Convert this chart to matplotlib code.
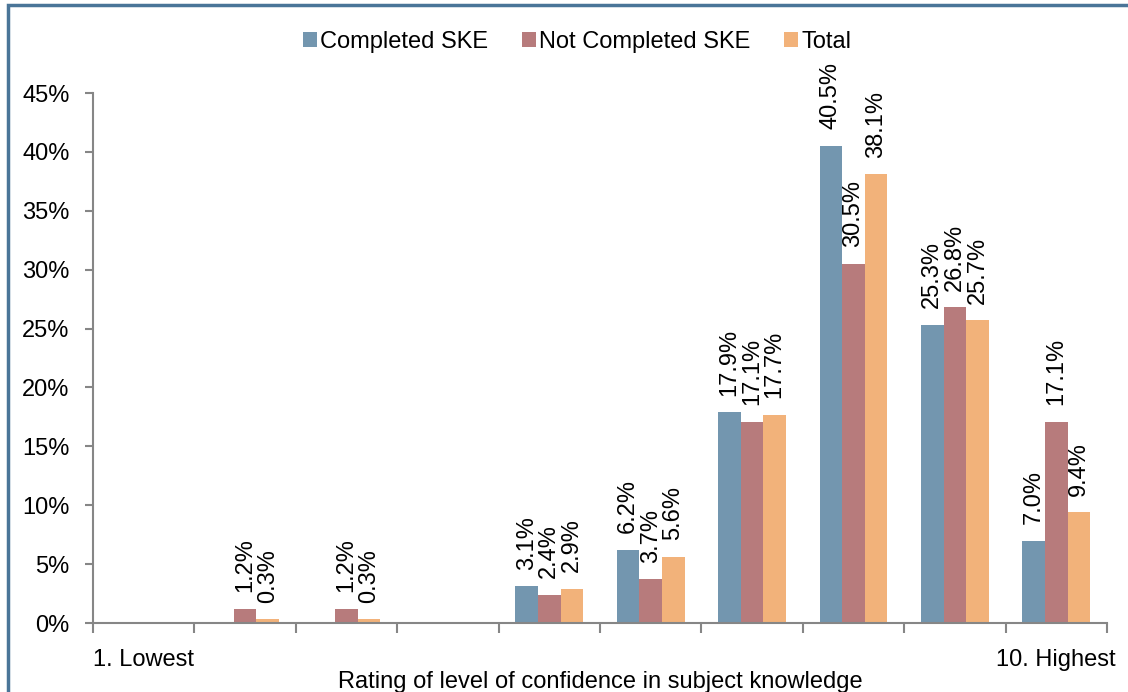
import matplotlib as mpl
mpl.use('agg')
import matplotlib.pyplot as plt
import numpy as np
from matplotlib.patches import Rectangle
from matplotlib.ticker import FuncFormatter

plt.rcParams['font.family'] = ['Liberation Sans', 'DejaVu Sans']

categories = ['1. Lowest', '', '', '', '', '', '', '', '', '10. Highest']
series_names = ['Completed SKE', 'Not Completed SKE', 'Total']
completed = [0, 0, 0, 0, 3.1, 6.2, 17.9, 40.5, 25.3, 7.0]
not_completed = [0, 1.2, 1.2, 0, 2.4, 3.7, 17.1, 30.5, 26.8, 17.1]
total = [0, 0.3, 0.3, 0, 2.9, 5.6, 17.7, 38.1, 25.7, 9.4]
colors = ['#7396AF', '#B77B7C', '#F2B27A']

axis_grey = '#868686'
fs = 17

fig = plt.figure(figsize=(11.28, 6.92), dpi=100)
ax = fig.add_axes([93 / 1128, 1 - 623 / 692, (1107 - 93) / 1128, (623 - 93) / 692])

x = np.arange(len(categories))
width = 0.223
for i, (vals, name, col) in enumerate(zip([completed, not_completed, total], series_names, colors)):
    pos = x + (i - 1) * width
    ax.bar(pos, vals, width, color=col, label=name, linewidth=0)
    for p, v in zip(pos, vals):
        if v > 0:
            ax.annotate('%.1f%%' % v, (p, v), xytext=(0, 12), textcoords='offset points',
                        rotation=90, ha='center', va='bottom', fontsize=fs)

ax.set_xlim(-0.5, len(categories) - 0.5)
ax.set_ylim(0, 45)
ax.set_yticks(np.arange(0, 46, 5))
ax.yaxis.set_major_formatter(FuncFormatter(lambda v, p: '%d%%' % v))

ax.set_xticks(np.arange(-0.5, len(categories), 1))
ax.set_xticklabels([])
ax.set_xticks(x, minor=True)
ax.set_xticklabels(categories, minor=True)
ax.tick_params(axis='x', which='minor', length=0, pad=19, labelsize=fs)
ax.tick_params(axis='x', which='major', length=7, color=axis_grey, width=1.5)
ax.tick_params(axis='y', length=6, color=axis_grey, width=1.5, labelsize=fs, pad=11)

for s in ['top', 'right']:
    ax.spines[s].set_visible(False)
for s in ['left', 'bottom']:
    ax.spines[s].set_color(axis_grey)
    ax.spines[s].set_linewidth(1.5)

ax.set_xlabel('Rating of level of confidence in subject knowledge', fontsize=fs, labelpad=0)

fig.legend(loc='center', bbox_to_anchor=(577 / 1128, 1 - 42 / 692), ncol=3, frameon=False,
           fontsize=fs, handlelength=0.6, handleheight=0.6, handletextpad=0.15,
           columnspacing=1.4)

fig.patches.append(Rectangle((8 / 1128, -0.1), 1.2, 1 - 5 / 692 + 0.1, transform=fig.transFigure,
                             fill=False, edgecolor='#4A7598', linewidth=2.5))

fig.savefig('out.png', dpi=100)
